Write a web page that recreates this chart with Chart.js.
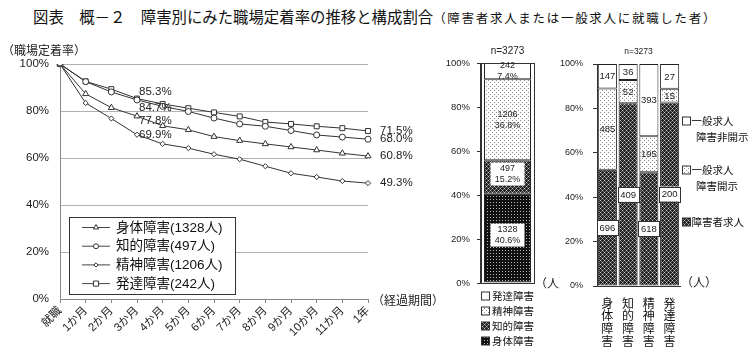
<!DOCTYPE html>
<html lang="ja"><head><meta charset="utf-8">
<script src="https://cdn.jsdelivr.net/npm/chart.js@4.4.1/dist/chart.umd.min.js"></script>
<style>
html,body{margin:0;padding:0;background:#fff;}
body{width:752px;height:353px;position:relative;overflow:hidden;}
canvas{position:absolute;top:0;}
#title{position:absolute;left:33px;top:5px;white-space:nowrap;color:#111;font-family:'Noto Sans CJK JP',sans-serif;font-size:15.4px;line-height:22px;}
#title .sub{font-size:12.5px;letter-spacing:1.7px;}
</style></head><body>
<div id="title">図表　概－２　障害別にみた職場定着率の推移と構成割合<span class="sub">（障害者求人または一般求人に就職した者）</span></div>
<canvas id="c1" width="440" height="353" style="left:0"></canvas>
<canvas id="c2" width="140" height="353" style="left:420px"></canvas>
<canvas id="c3" width="192" height="353" style="left:560px"></canvas>
<script>
// ---------- data ----------
const months = ['就職','1か月','2か月','3か月','4か月','5か月','6か月','7か月','8か月','9か月','10か月','11か月','1年'];
const shintaiRate  = [100, 87.3, 81.4, 77.8, 73.7, 72.0, 69.1, 67.4, 66.0, 64.7, 63.4, 62.0, 60.8];
const chitekiRate  = [100, 92.5, 88.1, 84.7, 82.0, 79.8, 77.0, 74.5, 73.5, 71.7, 69.8, 68.9, 68.0];
const seishinRate  = [100, 83.4, 76.8, 69.9, 66.0, 64.2, 61.6, 59.5, 56.5, 53.5, 51.9, 50.2, 49.3];
const hattatsuRate = [100, 92.6, 89.3, 85.3, 83.0, 81.2, 79.4, 77.7, 75.3, 74.5, 73.5, 72.7, 71.5];
const lineLegend = ['身体障害(1328人)','知的障害(497人)','精神障害(1206人)','発達障害(242人)'];
const yTicks = [0,20,40,60,80,100];

const compNames  = ['身体障害','知的障害','精神障害','発達障害'];
const compCounts = [1328, 497, 1206, 242];

const jobCats     = ['身体障害','知的障害','精神障害','発達障害'];
const jobNames    = ['障害者求人','一般求人 障害開示','一般求人 障害非開示'];
const shogaiKyujin = [696, 409, 618, 200];
const ippanKaiji   = [485, 52, 195, 15];
const ippanHikaiji = [147, 36, 393, 27];

// ---------- helpers ----------
const LAT = "'Liberation Sans','Noto Sans CJK JP',sans-serif";
const CJK = "'Noto Sans CJK JP',sans-serif";
Chart.defaults.font.family = LAT;
Chart.defaults.color = '#222';

function pat(w, h, draw){
  const c = document.createElement('canvas'); c.width = w; c.height = h;
  const x = c.getContext('2d'); draw(x);
  return x.createPattern(c, 'repeat');
}
const patBlack = pat(3,3,x=>{x.fillStyle='#111';x.fillRect(0,0,3,3);x.fillStyle='#b8b8b8';x.fillRect(1,1,1,1);});
const patCheck = pat(4,4,x=>{x.fillStyle='#222';x.fillRect(0,0,4,4);x.fillStyle='#c8c8c8';x.fillRect(0,0,1,1);x.fillRect(2,2,1,1);
  x.fillStyle='#7a7a7a';x.fillRect(1,1,1,1);x.fillRect(3,3,1,1);x.fillRect(1,3,1,1);x.fillRect(3,1,1,1);});
const patDots  = pat(4,4,x=>{x.fillStyle='#fff';x.fillRect(0,0,4,4);x.fillStyle='#8a8a8a';x.fillRect(0,0,1,1);x.fillRect(2,2,1,1);});

function marker(ctx, style, x, y, r){
  ctx.beginPath();
  if(style==='triangle'){
    ctx.moveTo(x, y-r); ctx.lineTo(x+r*0.87, y+r*0.5); ctx.lineTo(x-r*0.87, y+r*0.5); ctx.closePath();
  } else if(style==='circle'){
    ctx.arc(x, y, r, 0, Math.PI*2);
  } else if(style==='rectRot'){
    ctx.moveTo(x, y-r); ctx.lineTo(x+r, y); ctx.lineTo(x, y+r); ctx.lineTo(x-r, y); ctx.closePath();
  } else {
    const s=r*0.85; ctx.rect(x-s, y-s, 2*s, 2*s);
  }
  ctx.fillStyle='#fff'; ctx.fill(); ctx.strokeStyle='#333'; ctx.lineWidth=1; ctx.stroke();
}

// ---------- chart 1: line ----------
const lineStyles = ['triangle','circle','rectRot','rect'];
const lineRadii  = [3.5, 3, 2.6, 3.5];
const rateSeries = [shintaiRate, chitekiRate, seishinRate, hattatsuRate];
const midOffsets = [5, 7.5, 0, -7];

const linePlugin = {
  id:'lineExtras',
  afterDraw(chart){
    const ctx = chart.ctx; ctx.save();
    ctx.font = "11.5px "+LAT; ctx.fillStyle='#222'; ctx.textAlign='left'; ctx.textBaseline='middle';
    chart.data.datasets.forEach((ds,i)=>{
      const meta = chart.getDatasetMeta(i);
      const p3 = meta.data[3], pe = meta.data[meta.data.length-1];
      ctx.fillText(ds.data[3].toFixed(1)+'%', p3.x+2, p3.y+midOffsets[i]);
      ctx.fillText(ds.data[ds.data.length-1].toFixed(1)+'%', pe.x+12, pe.y);
    });
    ctx.font = "12px "+CJK; ctx.textAlign='left';
    ctx.fillText('（職場定着率）', 2, 50);
    ctx.fillText('（経過期間）', 372, chart.chartArea.bottom+1);
    const bx=69.5, by=217.5, bw=166, bh=77;
    ctx.fillStyle='#fff'; ctx.fillRect(bx,by,bw,bh);
    ctx.strokeStyle='#333'; ctx.lineWidth=1; ctx.strokeRect(bx,by,bw,bh);
    ctx.font = "13.5px "+LAT;
    lineLegend.forEach((t,i)=>{
      const y = 227 + i*18.7;
      ctx.beginPath(); ctx.moveTo(82,y+0.5); ctx.lineTo(110,y+0.5); ctx.strokeStyle='#444'; ctx.stroke();
      marker(ctx, lineStyles[i], 96, y+0.5, lineRadii[i]-0.5);
      ctx.fillStyle='#111'; ctx.textAlign='left'; ctx.textBaseline='middle';
      ctx.fillText(t, 116, y+1);
    });
    ctx.restore();
  }
};

new Chart(document.getElementById('c1'), {
  type:'line',
  data:{
    labels: months,
    datasets: rateSeries.map((d,i)=>({
      label: lineLegend[i], data: d,
      borderColor:'#333', borderWidth:1, tension:0,
      pointStyle: lineStyles[i], pointRadius: lineRadii[i],
      pointBackgroundColor:'#fff', pointBorderColor:'#333', pointBorderWidth:1
    }))
  },
  options:{
    responsive:false, animation:false, devicePixelRatio:1,
    layout:{padding:{left:0,right:72,top:64,bottom:0}},
    plugins:{legend:{display:false}, tooltip:{enabled:false}},
    scales:{
      x:{ offset:false,
          grid:{drawOnChartArea:false, drawTicks:true, tickLength:4, color:'#888'},
          border:{color:'#888'},
          ticks:{autoSkip:false, maxRotation:45, minRotation:45, padding:1, color:'#222', font:{size:11.5, family:LAT}},
          afterFit:s=>{s.height=54;} },
      y:{ min:0, max:100,
          afterBuildTicks:s=>{s.ticks = yTicks.map(v=>({value:v}));},
          ticks:{callback:v=>v+'%', padding:11, color:'#222', font:{size:11.5}},
          grid:{color:'#b0b0b0', drawTicks:false},
          border:{color:'#888'},
          afterFit:s=>{s.width=60;} }
    }
  },
  plugins:[linePlugin]
});

// ---------- chart 2: composition ----------
const compTotal = compCounts.reduce((a,b)=>a+b,0);
const compFills = [patBlack, patCheck, patDots, '#fff'];
const compBoxed = [true, true, false, false];

const compPlugin = {
  id:'compExtras',
  afterDatasetsDraw(chart){
    const ctx = chart.ctx, a = chart.chartArea; ctx.save();
    ctx.strokeStyle='#333'; ctx.lineWidth=1;
    ctx.strokeRect(Math.round(a.left)-0.5, Math.round(a.top)+0.5, Math.round(a.right-a.left)+1, Math.round(a.bottom-a.top));
    ctx.textAlign='center'; ctx.textBaseline='middle'; ctx.font="9px "+LAT;
    chart.data.datasets.forEach((ds,i)=>{
      const el = chart.getDatasetMeta(i).data[0];
      const cy = (el.y+el.base)/2 + (compBoxed[i]?-3:0);
      if(compBoxed[i]){ ctx.fillStyle='#fff'; ctx.fillRect(el.x-17, cy-11.5, 34, 23); }
      ctx.fillStyle='#222';
      ctx.fillText(String(compCounts[i]), el.x, cy-5.5);
      ctx.fillText((compCounts[i]/compTotal*100).toFixed(1)+'%', el.x, cy+5.5);
    });
    ctx.font="10px "+LAT; ctx.fillStyle='#222';
    ctx.fillText('n='+compTotal, (a.left+a.right)/2, 51);
    ctx.font="12px "+CJK; ctx.textAlign='left';
    ctx.fillText('（人）', a.right+1, a.bottom);
    ctx.font="10.5px "+CJK;
    for(let k=0;k<4;k++){
      const i = 3-k, y = 296 + k*15;
      ctx.fillStyle = compFills[i]; ctx.fillRect(61.5, y-4, 8, 8);
      ctx.strokeStyle='#333'; ctx.strokeRect(61.5, y-4, 8, 8);
      ctx.fillStyle='#111'; ctx.fillText(compNames[i], 72, y+0.5);
    }
    ctx.restore();
  }
};

new Chart(document.getElementById('c2'), {
  type:'bar',
  data:{
    labels:[''],
    datasets: compNames.map((n,i)=>({
      label:n, data:[compCounts[i]/compTotal*100],
      backgroundColor: compFills[i], borderColor:'#222', borderWidth:1, borderSkipped:false,
      categoryPercentage:1, barPercentage:0.887
    }))
  },
  options:{
    responsive:false, animation:false, devicePixelRatio:1,
    layout:{padding:{left:0,right:26,top:63,bottom:70}},
    plugins:{legend:{display:false}, tooltip:{enabled:false}},
    scales:{
      x:{stacked:true, display:false},
      y:{stacked:true, min:0, max:100,
         afterBuildTicks:s=>{s.ticks = yTicks.map(v=>({value:v}));},
         ticks:{callback:v=>v+'%', padding:7, color:'#222', font:{size:9.5}},
         grid:{drawOnChartArea:false, drawTicks:true, tickLength:4, color:'#333'},
         border:{color:'#333'},
         afterFit:s=>{s.width=61;} }
    }
  },
  plugins:[compPlugin]
});

// ---------- chart 3: job type by disability ----------
const jobSeries = [shogaiKyujin, ippanKaiji, ippanHikaiji];
const jobTotals = jobCats.map((c,j)=>jobSeries.reduce((s,arr)=>s+arr[j],0));
const jobAll = jobTotals.reduce((a,b)=>a+b,0);
const jobFills = [patCheck, patDots, '#fff'];

const jobPlugin = {
  id:'jobExtras',
  afterDatasetsDraw(chart){
    const ctx = chart.ctx, a = chart.chartArea; ctx.save();
    ctx.textAlign='center'; ctx.textBaseline='middle'; ctx.font="9.5px "+LAT;
    chart.data.datasets.forEach((ds,i)=>{
      chart.getDatasetMeta(i).data.forEach((el,j)=>{
        const cy = (el.y+el.base)/2;
        const t = String(jobSeries[i][j]);
        if(i===0){
          ctx.fillStyle='#fff'; ctx.fillRect(el.x-10.5, cy-7.5, 21, 15);
          ctx.strokeStyle='#333'; ctx.lineWidth=1; ctx.strokeRect(Math.round(el.x-10.5)+0.5, Math.round(cy-7.5)+0.5, 21, 15);
        }
        ctx.fillStyle='#222'; ctx.fillText(t, el.x, cy+0.5);
      });
    });
    ctx.font="8.5px "+LAT; ctx.fillStyle='#222';
    ctx.fillText('n='+jobAll, (a.left+a.right)/2, 52);
    ctx.font="12px "+CJK; ctx.textAlign='left';
    ctx.fillText('（人）', a.right+1, a.bottom-4);
    ctx.font="10.5px "+CJK; ctx.textBaseline='middle';
    const items = [
      {fill:'#fff', y:121, l1:'一般求人', l2:'障害非開示'},
      {fill:patDots, y:170, l1:'一般求人', l2:'障害開示'},
      {fill:patCheck, y:222, l1:'障害者求人', l2:null}
    ];
    items.forEach(it=>{
      ctx.fillStyle=it.fill; ctx.fillRect(122.5, it.y-4, 8, 8);
      ctx.strokeStyle='#333'; ctx.strokeRect(122.5, it.y-4, 8, 8);
      ctx.fillStyle='#111'; ctx.fillText(it.l1, 131.5, it.y+0.5);
      if(it.l2) ctx.fillText(it.l2, 136, it.y+16);
    });
    ctx.restore();
  }
};

new Chart(document.getElementById('c3'), {
  type:'bar',
  data:{
    labels: jobCats,
    datasets: jobNames.map((n,i)=>({
      label:n, data: jobSeries[i].map((v,j)=>v/jobTotals[j]*100),
      backgroundColor: jobFills[i], borderColor:'#222', borderWidth:1, borderSkipped:false,
      categoryPercentage:1, barPercentage:0.92
    }))
  },
  options:{
    responsive:false, animation:false, devicePixelRatio:1,
    layout:{padding:{left:0,right:72,top:64,bottom:0}},
    plugins:{legend:{display:false}, tooltip:{enabled:false}},
    scales:{
      x:{stacked:true,
         grid:{display:false}, border:{display:true, color:'#333'},
         ticks:{autoSkip:false, maxRotation:0, minRotation:0, padding:3, color:'#111',
                font:{size:12, family:CJK, lineHeight:1.05},
                callback:(v,i)=>jobCats[i].split('')},
         afterFit:s=>{s.height=67;} },
      y:{stacked:true, min:0, max:100,
         afterBuildTicks:s=>{s.ticks = yTicks.map(v=>({value:v}));},
         ticks:{callback:v=>v+'%', padding:10, color:'#222', font:{size:9}},
         grid:{drawOnChartArea:false, drawTicks:true, tickLength:4, color:'#333'},
         border:{color:'#333'},
         afterFit:s=>{s.width=37;} }
    }
  },
  plugins:[jobPlugin]
});
</script>
</body></html>
